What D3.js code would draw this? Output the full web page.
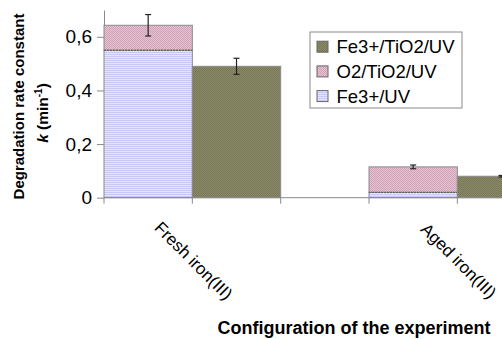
<!DOCTYPE html>
<html>
<head>
<meta charset="utf-8">
<script src="https://cdn.jsdelivr.net/npm/d3@7"></script>
<style>
  html, body { margin: 0; padding: 0; background: #fff; }
  svg { display: block; font-family: "Liberation Sans", Arial, sans-serif; }
</style>
</head>
<body>
<svg id="chart" width="502" height="339"></svg>
<script>
// Degradation rate constants per iron(III) configuration
const categories = ["Fresh iron(III)", "Aged iron(III)"];
const fe3UV      = [0.55, 0.02];    // Fe3+/UV (bottom of stacked bar)
const o2TiO2UV   = [0.093, 0.095];  // O2/TiO2/UV (top of stacked bar)
const fe3TiO2UV  = [0.49, 0.08];    // Fe3+/TiO2/UV (separate bar)
const stackErr   = [0.04, 0.007];
const fe3TiO2Err = [0.03, 0.003];
const yTicks     = [0, 0.2, 0.4, 0.6];
const legendItems = ["Fe3+/TiO2/UV", "O2/TiO2/UV", "Fe3+/UV"];

const svg = d3.select("#chart");

// Fill patterns
const defs = svg.append("defs");
const olive = defs.append("pattern").attr("id", "pOlive").attr("patternUnits", "userSpaceOnUse")
  .attr("width", 2).attr("height", 2);
olive.append("rect").attr("width", 2).attr("height", 2).attr("fill", "#8a8a68");
olive.append("rect").attr("width", 1).attr("height", 1).attr("fill", "#787858");
olive.append("rect").attr("x", 1).attr("y", 1).attr("width", 1).attr("height", 1).attr("fill", "#787858");

const pink = defs.append("pattern").attr("id", "pPink").attr("patternUnits", "userSpaceOnUse")
  .attr("width", 2).attr("height", 2);
pink.append("rect").attr("width", 2).attr("height", 2).attr("fill", "#e6c2d2");
pink.append("rect").attr("width", 1).attr("height", 1).attr("fill", "#cfa2b6");
pink.append("rect").attr("x", 1).attr("y", 1).attr("width", 1).attr("height", 1).attr("fill", "#cfa2b6");

const lav = defs.append("pattern").attr("id", "pLav").attr("patternUnits", "userSpaceOnUse")
  .attr("width", 2).attr("height", 2);
lav.append("rect").attr("width", 2).attr("height", 2).attr("fill", "#e4e4ff");
lav.append("rect").attr("width", 2).attr("height", 1).attr("fill", "#c8c8f6");

const fills = ["url(#pOlive)", "url(#pPink)", "url(#pLav)"];

// Scales
const y = d3.scaleLinear().domain([0, 0.7]).range([197.7, 10]);
const x = d3.scaleBand().domain(categories).range([104, 545.7])
  .paddingInner(1 / 3).paddingOuter(0).align(0);
const sub = d3.scaleBand().domain(["stack", "single"]).range([0, x.bandwidth()]);

// Axes
const fmt = d => d === 0 ? "0" : d3.format(".1f")(d).replace(".", ",");
const yAxis = svg.append("g").attr("transform", "translate(104,0)")
  .call(d3.axisLeft(y).tickValues(yTicks).tickFormat(fmt).tickSize(7).tickPadding(5).tickSizeOuter(0));
yAxis.select(".domain").attr("stroke", "#8a8a8a");
yAxis.selectAll(".tick line").attr("stroke", "#8a8a8a");
yAxis.selectAll(".tick text").attr("fill", "#000").attr("font-size", 19)
  .attr("font-family", "Liberation Sans, Arial, sans-serif");

// Bars
const bars = svg.append("g");
categories.forEach((c, i) => {
  const x0 = x(c) + sub("stack");
  const x1 = x(c) + sub("single");
  const w = sub.bandwidth();
  // stacked: Fe3+/UV then O2/TiO2/UV
  bars.append("rect").attr("x", x0).attr("y", y(fe3UV[i]))
    .attr("width", w).attr("height", y(0) - y(fe3UV[i]))
    .attr("fill", fills[2]).attr("stroke", "#8a8a8a").attr("stroke-width", 1);
  const top = fe3UV[i] + o2TiO2UV[i];
  bars.append("rect").attr("x", x0).attr("y", y(top))
    .attr("width", w).attr("height", y(fe3UV[i]) - y(top))
    .attr("fill", fills[1]).attr("stroke", "#8a8a8a").attr("stroke-width", 1);
  bars.append("line").attr("x1", x0).attr("x2", x0 + w)
    .attr("y1", y(fe3UV[i])).attr("y2", y(fe3UV[i]))
    .attr("stroke", "#555").attr("stroke-dasharray", "2,1");
  // single bar
  bars.append("rect").attr("x", x1).attr("y", y(fe3TiO2UV[i]))
    .attr("width", w).attr("height", y(0) - y(fe3TiO2UV[i]))
    .attr("fill", fills[0]).attr("stroke", "#8a8a8a").attr("stroke-width", 1);

  // error bars
  const errs = [[x0 + w / 2, top, stackErr[i]], [x1 + w / 2, fe3TiO2UV[i], fe3TiO2Err[i]]];
  errs.forEach(([cx, v, e]) => {
    const g = bars.append("g").attr("stroke", "#222").attr("stroke-width", 1.2);
    g.append("line").attr("x1", cx).attr("x2", cx).attr("y1", y(v + e)).attr("y2", y(v - e));
    g.append("line").attr("x1", cx - 3).attr("x2", cx + 3).attr("y1", y(v + e)).attr("y2", y(v + e));
    g.append("line").attr("x1", cx - 3).attr("x2", cx + 3).attr("y1", y(v - e)).attr("y2", y(v - e));
  });
});

// X axis line with ticks at bar edges
const xg = svg.append("g").attr("stroke", "#8a8a8a").attr("stroke-width", 1);
xg.append("line").attr("x1", 104).attr("x2", 502).attr("y1", y(0)).attr("y2", y(0));
categories.forEach(c => {
  [x(c), x(c) + sub("single"), x(c) + x.bandwidth()].forEach(tx => {
    xg.append("line").attr("x1", tx).attr("x2", tx).attr("y1", y(0)).attr("y2", y(0) + 6);
  });
});

// Category labels, rotated
categories.forEach(c => {
  const cx = x(c) + sub("single") + 1;
  svg.append("text")
    .attr("transform", `translate(${cx},261) rotate(45)`)
    .attr("text-anchor", "middle").attr("dominant-baseline", "central")
    .attr("font-size", 17).attr("fill", "#000").text(c);
});

// Axis titles
svg.append("text").attr("transform", "translate(24,106.5) rotate(-90)")
  .attr("text-anchor", "middle").attr("font-size", 15).attr("font-weight", "bold")
  .text("Degradation rate constant");
const t2 = svg.append("text").attr("transform", "translate(48,113) rotate(-90)")
  .attr("text-anchor", "middle").attr("font-size", 15.5).attr("font-weight", "bold");
t2.append("tspan").attr("font-style", "italic").text("k");
t2.append("tspan").text(" (min");
t2.append("tspan").attr("font-size", 10).attr("dy", -6).text("-1");
t2.append("tspan").attr("dy", 6).text(")");

svg.append("text").attr("x", 354).attr("y", 334).attr("text-anchor", "middle")
  .attr("font-size", 18).attr("font-weight", "bold").text("Configuration of the experiment");

// Legend
const lg = svg.append("g");
lg.append("rect").attr("x", 310).attr("y", 32).attr("width", 152).attr("height", 76)
  .attr("fill", "#fff").attr("stroke", "#8a8a8a");
legendItems.forEach((name, i) => {
  const cy = 46.7 + i * 24.7;
  lg.append("rect").attr("x", 317).attr("y", cy - 5.5).attr("width", 11).attr("height", 11)
    .attr("fill", fills[i]).attr("stroke", "#666");
  lg.append("text").attr("x", 336.5).attr("y", cy).attr("dominant-baseline", "central")
    .attr("font-size", 18.5).attr("fill", "#000").text(name);
});
</script>
</body>
</html>
